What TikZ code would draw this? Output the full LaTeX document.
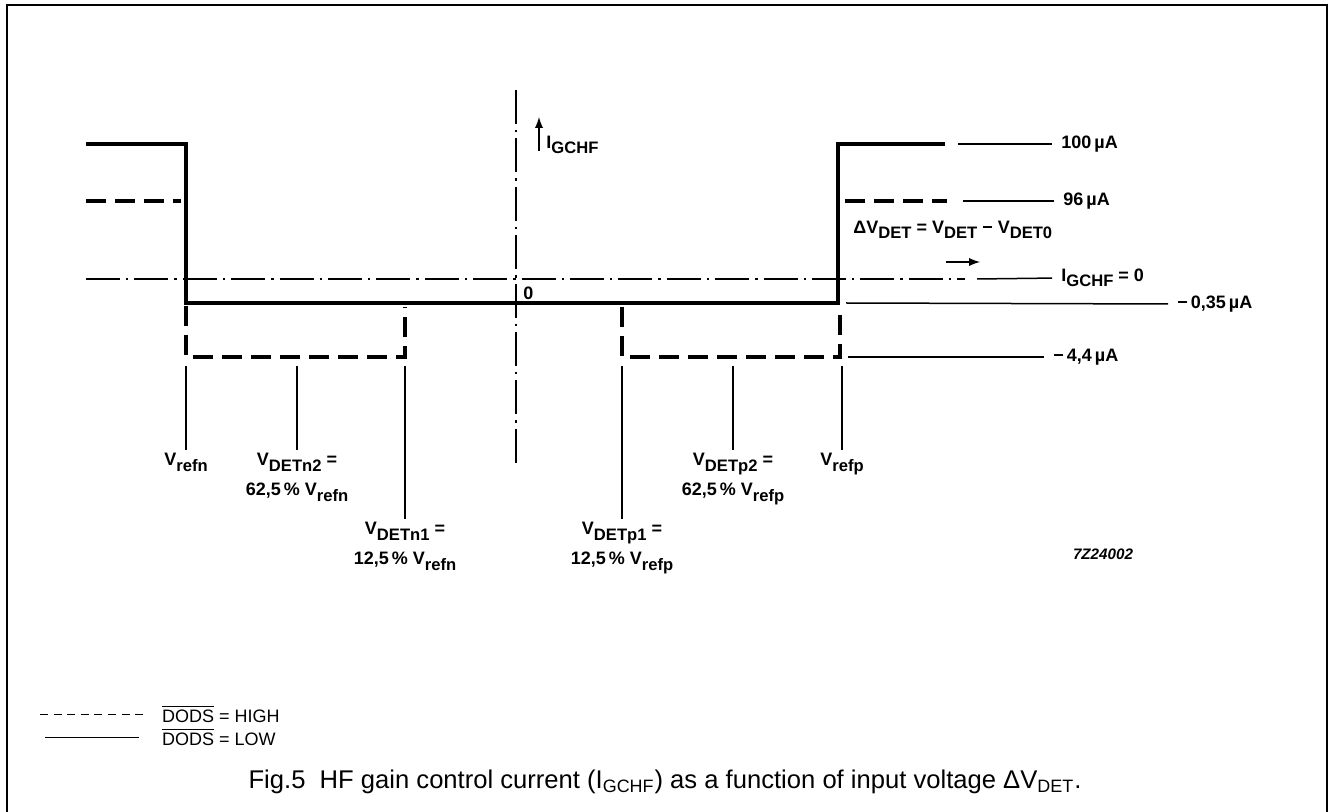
\documentclass[tikz,border=0pt]{standalone}
\usepackage{fontspec}
\setmainfont{Liberation Sans}
\usetikzlibrary{positioning}

\newcommand{\lo}[1]{\raisebox{-0.55ex}{\fontsize{8.3}{9}\selectfont #1}}
\tikzstyle{level} = [line width=1.7pt]
\tikzstyle{hlevel} = [line width=1.7pt, dash pattern=on 10pt off 4.5pt]
\tikzstyle{zero} = [line width=0.9pt, dash pattern=on 17pt off 3pt on 1.2pt off 3pt]
\tikzstyle{lead} = [line width=0.75pt, shorten >=3pt]
\tikzstyle{lbl} = [font=\fontsize{9}{15}\selectfont\bfseries, inner sep=1.5pt]

\begin{document}
\begin{tikzpicture}[x=0.5pt, y=-0.5pt]
		\useasboundingbox (0,0) rectangle (1329,812);
		\draw[line width=0.9pt] (7,815) -- (7,5) -- (1327,5) -- (1327,815);
		% axes
		\draw[zero] (516,90) -- (516,463);
		\draw[zero] (86,279) -- (965,279);
		\draw[-latex, line width=0.9pt] (539,151) -- (539,117);
		\node[lbl, anchor=west] (iax) at (543,145) {I\lo{GCHF}};
		\node[lbl, anchor=west] (null) at (520,293) {0};
		% DODS = LOW
		\draw[level] (86,144) -- (186,144) -- (186,303) -- (838,303) -- (838,144) -- (945,144);
		% DODS = HIGH
		\draw[hlevel] (86,201) -- (181,201);
		\draw[hlevel] (186,306) -- (186,357) -- (405,357) -- (405,307);
		\draw[hlevel] (622,307) -- (622,357) -- (840,357) -- (840,307);
		\draw[hlevel] (845,201) -- (947,201);
		% current levels
		\node[lbl, anchor=west] (i100) at (1058,144) {100\,µA};
		\node[lbl, anchor=west] (i96) at (1060,201) {96\,µA};
		\node[lbl, anchor=west] (izero) at (1058,278) {I\lo{GCHF} = 0};
		\node[lbl, anchor=west] (i035) at (1174,304) {−\,0,35\,µA};
		\node[lbl, anchor=west] (i44) at (1050,357) {−\,4,4\,µA};
		\draw[lead] (958,144) -- (i100.west);
		\draw[lead] (963,201) -- (i96.west);
		\draw[lead] (977,279) -- (izero.west);
		\draw[lead] (846,303) -- (i035.west);
		\draw[lead] (848,357) -- (i44.west);
		\node[lbl, anchor=west] (dv) at (850,230) {ΔV\lo{DET} = V\lo{DET} − V\lo{DET0}};
		\draw[-latex, line width=0.9pt] (946,262) -- (980,262);
		% voltage marks
		\foreach \x/\y/\n/\t in {186/450/refn/{V\lo{refn}}, 297/450/dn2/{V\lo{DETn2} =\\62,5\,\% V\lo{refn}}, 405/519/dn1/{V\lo{DETn1} =\\12,5\,\% V\lo{refn}}, 622/519/dp1/{V\lo{DETp1} =\\12,5\,\% V\lo{refp}}, 733/450/dp2/{V\lo{DETp2} =\\62,5\,\% V\lo{refp}}, 842/450/refp/{V\lo{refp}}} {
			\node[lbl, anchor=north, align=center] (\n) at (\x,\y) {\t};
			\draw[lead, shorten >=0pt] (\x,366) -- (\n.north);
		}
		\node[lbl, font=\fontsize{7.6}{9}\selectfont\itshape\bfseries] (code) at (1103,554) {7Z24002};
		% legend
		\draw[line width=0.5pt, dash pattern=on 4pt off 2.8pt] (40,714) coordinate (hs) -- (148,714) coordinate (he);
		\node[anchor=west, font=\fontsize{9}{11}\selectfont] (high) at (155,714) {$\overline{\hbox{DODS}}$ = HIGH};
		\draw[line width=0.5pt] (45,737) coordinate (ls) -- (139,737) coordinate (le);
		\node[anchor=west, font=\fontsize{9}{11}\selectfont] (low) at (155,737) {$\overline{\hbox{DODS}}$ = LOW};
		\node[font=\fontsize{12.8}{15}\selectfont] (cap) at (665,782) {Fig.5\ \ HF gain control current (I\textsubscript{GCHF}) as a function of input voltage ΔV\textsubscript{DET}.};
	\end{tikzpicture}
\end{document}
